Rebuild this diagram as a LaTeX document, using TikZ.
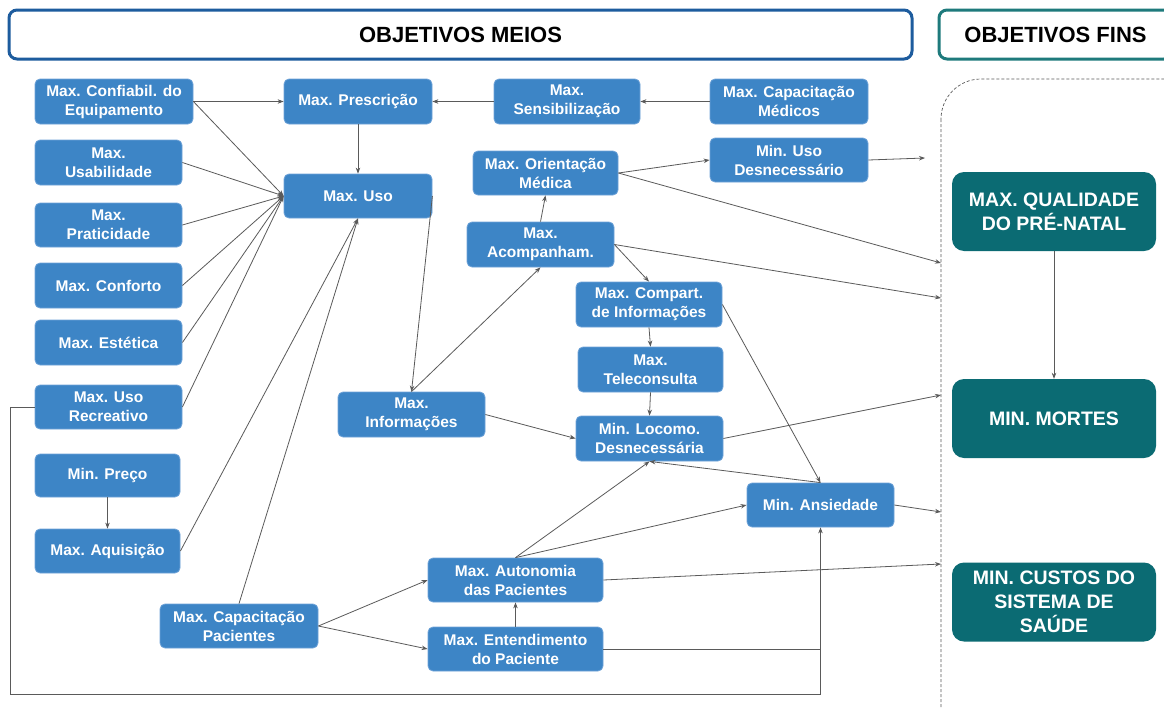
\documentclass[tikz,border=0pt]{standalone}
\usepackage{fontspec}
\setmainfont{Liberation Sans}
\usetikzlibrary{arrows.meta}
\definecolor{boxblue}{HTML}{3D85C6}
\definecolor{boxedge}{HTML}{6FA3D8}
\definecolor{teal}{HTML}{0B6B73}
\definecolor{hdrblue}{HTML}{1D5C9E}
\definecolor{hdrteal}{HTML}{1E7A7C}
\definecolor{linegray}{HTML}{5A5A5A}
\tikzset{
  bbox/.style={draw=boxedge, line width=0.8pt, fill=boxblue, rounded corners=5pt,
    text=white, font=\bfseries\fontsize{15.5}{19}\selectfont, align=center, inner sep=0pt},
  gbox/.style={fill=teal, rounded corners=12pt, text=white,
    font=\bfseries\fontsize{19.5}{24}\selectfont, align=center, inner sep=0pt,
    minimum width=204, minimum height=79},
  hdr/.style={line width=3pt, rounded corners=8pt, fill=white,
    font=\bfseries\fontsize{22}{26}\selectfont, inner sep=0pt},
  arr/.style={draw=linegray, line width=0.8pt, -{Stealth[length=6pt,width=4.5pt]}},
  ln/.style={draw=linegray, line width=0.8pt},
}
\begin{document}
\begin{tikzpicture}[x=1pt,y=-1pt]
\useasboundingbox (0,0) rectangle (1164,707);
\clip (0,0) rectangle (1164,707);
\fill[white] (0,0) rectangle (1164,707);

% headers
\node[hdr, draw=hdrblue, minimum width=903, minimum height=49] (meios) at (460.5,34.5) {OBJETIVOS MEIOS};
\node[hdr, draw=hdrteal, minimum width=233, minimum height=49] (fins) at (1055.5,34.5) {OBJETIVOS FINS};

% dashed region
\draw[linegray, line width=0.7pt, dash pattern=on 3pt off 2pt, rounded corners=40pt] (941,79) rectangle (1230,760);

% blue nodes
\node[bbox, minimum width=158, minimum height=45] (conf) at (114,101.5) {Max. Confiabil. do\\Equipamento};
\node[bbox, minimum width=147, minimum height=45] (usab) at (108.5,162.5) {Max.\\Usabilidade};
\node[bbox, minimum width=147, minimum height=44] (prat) at (108.5,225) {Max.\\Praticidade};
\node[bbox, minimum width=147, minimum height=45] (confo) at (108.5,285.5) {Max. Conforto};
\node[bbox, minimum width=147, minimum height=45] (est) at (108.5,342.5) {Max. Estética};
\node[bbox, minimum width=147, minimum height=44] (recr) at (108.5,407) {Max. Uso\\Recreativo};
\node[bbox, minimum width=145, minimum height=43] (preco) at (107.5,475.5) {Min. Preço};
\node[bbox, minimum width=145, minimum height=44] (aquis) at (107.5,551) {Max. Aquisição};
\node[bbox, minimum width=158, minimum height=44] (capp) at (239,626) {Max. Capacitação\\Pacientes};
\node[bbox, minimum width=148, minimum height=45] (presc) at (358,101.5) {Max. Prescrição};
\node[bbox, minimum width=148, minimum height=44] (uso) at (358,196) {Max. Uso};
\node[bbox, minimum width=147, minimum height=45] (info) at (411.5,414.5) {Max.\\Informações};
\node[bbox, minimum width=146, minimum height=45] (sens) at (567,101.5) {Max.\\Sensibilização};
\node[bbox, minimum width=158, minimum height=45] (capm) at (789,101.5) {Max. Capacitação\\Médicos};
\node[bbox, minimum width=158, minimum height=44] (minuso) at (789,160) {Min. Uso\\Desnecessário};
\node[bbox, minimum width=145, minimum height=44] (orient) at (545.5,173) {Max. Orientação\\Médica};
\node[bbox, minimum width=147, minimum height=45] (acomp) at (540.5,244.5) {Max.\\Acompanham.};
\node[bbox, minimum width=146, minimum height=45] (compart) at (649,304.5) {Max. Compart.\\de Informações};
\node[bbox, minimum width=145, minimum height=45] (tele) at (650.5,369.5) {Max.\\Teleconsulta};
\node[bbox, minimum width=147, minimum height=45] (loco) at (649.5,438.5) {Min. Locomo.\\Desnecessária};
\node[bbox, minimum width=147, minimum height=44] (ans) at (820.5,505) {Min. Ansiedade};
\node[bbox, minimum width=175, minimum height=44] (auto) at (515.5,580) {Max. Autonomia\\das Pacientes};
\node[bbox, minimum width=175, minimum height=44] (ent) at (515.5,649) {Max. Entendimento\\do Paciente};

% green nodes
\node[gbox] (qual) at (1054,211.5) {MAX. QUALIDADE\\DO PRÉ-NATAL};
\node[gbox] (mortes) at (1054,418.5) {MIN. MORTES};
\node[gbox] (custos) at (1054,602) {MIN. CUSTOS DO\\SISTEMA DE\\SAÚDE};

% free ends at the dashed boundary
\coordinate (t1) at (925,158);
\coordinate (t2) at (941,263);
\coordinate (t3) at (941,298);
\coordinate (t4) at (941,395);
\coordinate (t5) at (941,512);
\coordinate (t6) at (941,564);
\coordinate (lp) at (10,694);

% connectors
\draw[arr] (conf.east) -- (presc.west);
\draw[arr] (conf.east) -- (uso.west);
\draw[arr] (usab.east) -- (uso.west);
\draw[arr] (prat.east) -- (uso.west);
\draw[arr] (confo.east) -- (uso.west);
\draw[arr] (est.east) -- (uso.west);
\draw[arr] (recr.east) -- (uso.west);
\draw[arr] (aquis.east) -- (uso.south);
\draw[arr] (capp.north) -- (uso.south);
\draw[arr] (presc.south) -- (uso.north);
\draw[arr] (sens.west) -- (presc.east);
\draw[arr] (capm.west) -- (sens.east);
\draw[arr] (preco.south) -- (aquis.north);
\draw[arr] (uso.east) -- (info.north);
\draw[arr] (info.north) -- (acomp.south);
\draw[arr] (info.east) -- (loco.west);
\draw[arr] (acomp.north) -- (orient.south);
\draw[arr] (orient.east) -- (minuso.west);
\draw[arr] (orient.east) -- (t2);
\draw[arr] (minuso.east) -- (t1);
\draw[arr] (acomp.east) -- (compart.north);
\draw[arr] (acomp.east) -- (t3);
\draw[arr] (compart.south) -- (tele.north);
\draw[arr] (tele.south) -- (loco.north);
\draw[arr] (compart.east) -- (ans.north);
\draw[arr] (ans.north) -- (loco.south);
\draw[arr] (loco.east) -- (t4);
\draw[arr] (ans.east) -- (t5);
\draw[arr] (auto.north) -- (loco.south);
\draw[arr] (auto.north) -- (ans.west);
\draw[arr] (auto.east) -- (t6);
\draw[arr] (ent.north) -- (auto.south);
\draw[arr] (capp.east) -- (auto.west);
\draw[arr] (capp.east) -- (ent.west);
\draw[ln] (ent.east) -- (ent.east -| ans.south);
\draw[arr] (recr.west) -| (lp) -| (ans.south);
\draw[arr] (qual.south) -- (mortes.north);
\end{tikzpicture}
\end{document}
